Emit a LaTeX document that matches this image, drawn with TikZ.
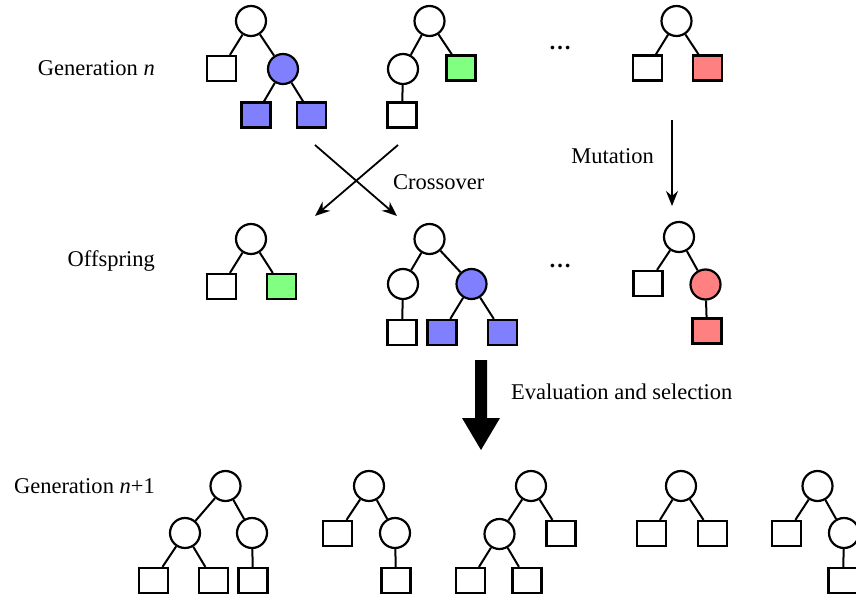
\documentclass[tikz,border=0pt]{standalone}
\usepackage{fontspec}
\setmainfont{Liberation Serif}
\usetikzlibrary{arrows.meta}
\definecolor{cblue}{HTML}{8080FF}
\definecolor{cgreen}{HTML}{80FF80}
\definecolor{cred}{HTML}{FF8080}
\begin{document}
\begin{tikzpicture}[x=1pt,y=-1pt,
  cnode/.style={circle,draw,line width=2.2pt,minimum size=30pt,inner sep=0pt,fill=white},
  snode/.style={rectangle,draw,line width=2.2pt,minimum width=29pt,minimum height=25pt,inner sep=0pt,fill=white},
  bfill/.style={fill=cblue},
  gfill/.style={fill=cgreen},
  rfill/.style={fill=cred},
  tedge/.style={line width=2pt},
  lbl/.style={font=\fontsize{22.5}{27}\selectfont,inner sep=0pt},
  xarrow/.style={line width=1.8pt,-{Stealth[length=15pt,width=12pt,inset=5pt]}},
]
\useasboundingbox (0,0) rectangle (856,601);

% ---------- Generation n ----------
\node[lbl,anchor=base east] (lgen) at (155,76) {Generation \textit{n}};
% tree 1
\node[cnode] (a1) at (251,21) {};
\node[snode] (a2) at (221.5,68.5) {};
\node[cnode,bfill] (a3) at (283,69) {};
\node[snode,bfill] (a4) at (256,115) {};
\node[snode,bfill] (a5) at (311.5,115) {};
\draw[tedge] (a1) -- (a2) (a1) -- (a3) (a3) -- (a4) (a3) -- (a5);
% tree 2
\node[cnode] (b1) at (429.5,21) {};
\node[cnode] (b2) at (403,69) {};
\node[snode,gfill] (b3) at (461,68) {};
\node[snode] (b4) at (402,115) {};
\draw[tedge] (b1) -- (b2) (b1) -- (b3) (b2) -- (b4);
% dots
\node[lbl,anchor=base] (d1) at (560,50) {\textbf{…}};
% tree 3
\node[cnode] (c1) at (676.5,21) {};
\node[snode] (c2) at (647.5,68) {};
\node[snode,rfill] (c3) at (707.5,68) {};
\draw[tedge] (c1) -- (c2) (c1) -- (c3);

% ---------- Operators ----------
\coordinate (x1s) at (315,145);
\coordinate (x1e) at (397,216);
\coordinate (x2s) at (398,145);
\coordinate (x2e) at (315,216);
\draw[xarrow] (x1s) -- (x1e);
\draw[xarrow] (x2s) -- (x2e);
\node[lbl,anchor=base west] (lcross) at (393,190) {Crossover};
\coordinate (ms) at (672,120);
\coordinate (me) at (672,206);
\draw[xarrow] (ms) -- (me);
\node[lbl,anchor=base east] (lmut) at (654,164) {Mutation};

% ---------- Offspring ----------
\node[lbl,anchor=base east] (loff) at (155,267) {Offspring};
\node[cnode] (e1) at (251,239) {};
\node[snode] (e2) at (221.5,286.5) {};
\node[snode,gfill] (e3) at (281.5,286.5) {};
\draw[tedge] (e1) -- (e2) (e1) -- (e3);

\node[cnode] (f1) at (429.5,239) {};
\node[cnode] (f2) at (403,284) {};
\node[cnode,bfill] (f3) at (471.5,284) {};
\node[snode] (f4) at (402,332.5) {};
\node[snode,bfill] (f5) at (442,332.5) {};
\node[snode,bfill] (f6) at (502.5,332.5) {};
\draw[tedge] (f1) -- (f2) (f1) -- (f3) (f2) -- (f4) (f3) -- (f5) (f3) -- (f6);

\node[lbl,anchor=base] (d2) at (560,268) {\textbf{…}};

\node[cnode] (g1) at (679,237) {};
\node[snode] (g2) at (648,283.5) {};
\node[cnode,rfill] (g3) at (705.5,284.5) {};
\node[snode,rfill] (g4) at (707,331) {};
\draw[tedge] (g1) -- (g2) (g1) -- (g3) (g3) -- (g4);

% ---------- Evaluation arrow ----------
\fill (475,360) -- (487,360) -- (487,418) -- (500,418) -- (481,450) -- (462,418) -- (475,418) -- cycle;
\node[lbl,anchor=base west] (leval) at (511,399) {Evaluation and selection};

% ---------- Generation n+1 ----------
\node[lbl,anchor=base east] (lgen2) at (155,493) {Generation \textit{n}+1};
% A
\node[cnode] (h1) at (225.5,486) {};
\node[cnode] (h2) at (185,533) {};
\node[cnode] (h3) at (252,533) {};
\node[snode] (h4) at (153.5,580.5) {};
\node[snode] (h5) at (213.5,580.5) {};
\node[snode] (h6) at (253,580.5) {};
\draw[tedge] (h1) -- (h2) (h1) -- (h3) (h2) -- (h4) (h2) -- (h5) (h3) -- (h6);
% B
\node[cnode] (i1) at (369,486) {};
\node[snode] (i2) at (337.5,533.5) {};
\node[cnode] (i3) at (395,533) {};
\node[snode] (i4) at (396,580.5) {};
\draw[tedge] (i1) -- (i2) (i1) -- (i3) (i3) -- (i4);
% C
\node[cnode] (j1) at (531,486) {};
\node[cnode] (j2) at (499.5,534) {};
\node[snode] (j3) at (561,533.5) {};
\node[snode] (j4) at (470.5,580.5) {};
\node[snode] (j5) at (527,580.5) {};
\draw[tedge] (j1) -- (j2) (j1) -- (j3) (j2) -- (j4) (j2) -- (j5);
% D
\node[cnode] (k1) at (681,486) {};
\node[snode] (k2) at (651.5,533.5) {};
\node[snode] (k3) at (712.5,533.5) {};
\draw[tedge] (k1) -- (k2) (k1) -- (k3);
% E (cut by the right edge)
\node[cnode] (m1) at (817.5,486) {};
\node[snode] (m2) at (786.5,533.5) {};
\node[cnode] (m3) at (844,533) {};
\node[snode] (m4) at (843,580.5) {};
\draw[tedge] (m1) -- (m2) (m1) -- (m3) (m3) -- (m4);
\end{tikzpicture}
\end{document}
